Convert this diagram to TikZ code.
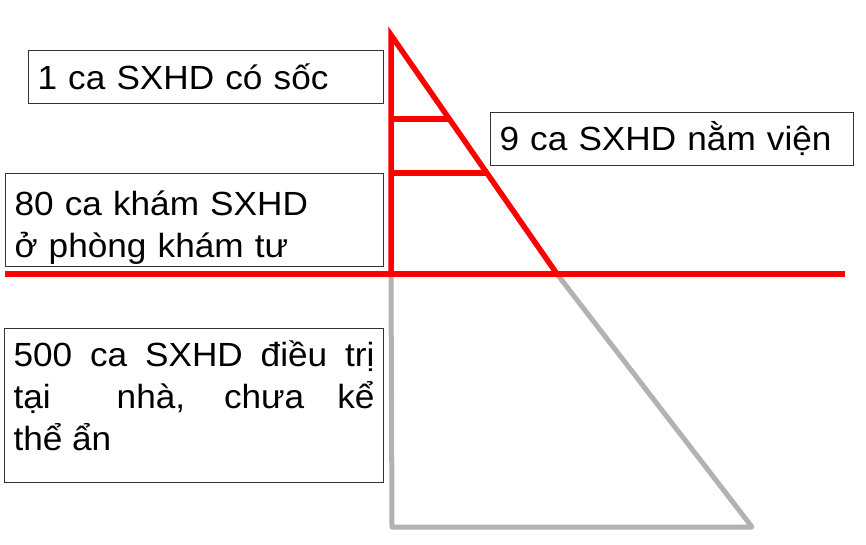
\documentclass[tikz,border=0pt]{standalone}
\usepackage{fontspec}
\setmainfont[FakeStretch=1.05]{Liberation Sans}
\usetikzlibrary{calc}

\tikzset{
  note/.style={draw=black!80, line width=1pt, anchor=north west,
    inner xsep=9pt, inner ysep=0pt, align=left,
    font=\fontsize{33.5}{42}\selectfont},
  redline/.style={draw=red, line width=5.5pt},
  greyline/.style={draw=black!30, line width=5pt, line join=round}
}

\begin{document}
\begin{tikzpicture}[x=1pt,y=-1pt]
  \useasboundingbox (0,0) rectangle (866,545);
  \path
    (391,35) coordinate (apex)
    (391,274) coordinate (base)
    (557,274) coordinate (mid)
    (392,527) coordinate (low)
    (752,527) coordinate (corner)
    (5,274) coordinate (lineW)
    (845,274) coordinate (lineE)
    ($(apex)!0.351!(mid)$) coordinate (rung1)
    ($(apex)!0.577!(mid)$) coordinate (rung2);
  \draw
    (28,50) node[note, text width=337pt, minimum height=53pt] (shock) {1 ca SXHD có sốc}
    (490,112) node[note, text width=345pt, minimum height=53pt] (ward) {9 ca SXHD nằm viện}
    (5,173) node[note, text width=360pt, minimum height=93pt] (clinic)
      {\rule{0pt}{40pt}80 ca khám SXHD\\ở phòng khám tư}
    (4,328) node[note, text width=361pt, minimum height=154pt, align=justify] (home)
      {500 ca SXHD điều trị\linebreak tại\ \ nhà, chưa kể\linebreak thể ẩn\rule[-19pt]{0pt}{19pt}};
  \begin{scope}[greyline]
    \draw (base) -- (low) -- (corner) -- (mid);
  \end{scope}
  \begin{scope}[redline]
    \draw (base) -- (apex) -- (mid);
    \draw (rung1 -| apex) -- (rung1);
    \draw (rung2 -| apex) -- (rung2);
    \draw[line width=6pt] (lineW) -- (lineE);
  \end{scope}
\end{tikzpicture}
\end{document}
